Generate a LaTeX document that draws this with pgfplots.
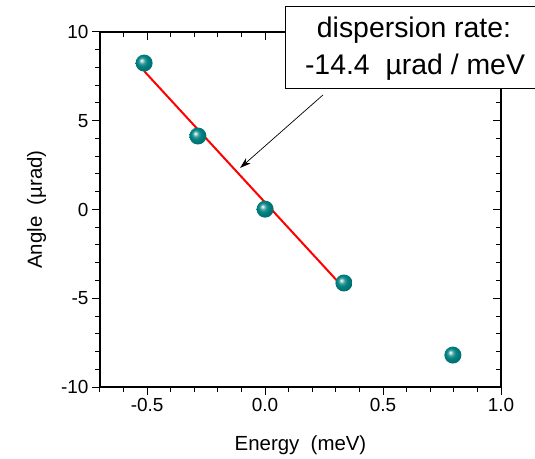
\documentclass[border=0pt]{standalone}
\usepackage{fontspec}
\setmainfont{Liberation Sans}
\usepackage{pgfplots}
\pgfplotsset{compat=1.18}
\usetikzlibrary{arrows.meta}
\definecolor{ballteal}{RGB}{0,128,128}
\pgfdeclareradialshading{tealball}{\pgfpoint{-8bp}{8bp}}{%
  color(0bp)=(white); color(3bp)=(white!75!ballteal); color(9bp)=(ballteal!80!white);
  color(16bp)=(ballteal); color(28bp)=(ballteal!85!black); color(50bp)=(ballteal!70!black)}
\pgfdeclareplotmark{tball}{%
  \pgfpathcircle{\pgfpointorigin}{\pgfplotmarksize}%
  \pgfshadepath{tealball}{0}%
  \pgfusepath{discard}}
\begin{document}
\begin{tikzpicture}
\begin{axis}[
  name=ax,
  scale only axis, width=401bp, height=355bp,
  xmin=-0.7, xmax=1.0, ymin=-10, ymax=10,
  xtick={-0.5,0,0.5,1}, xticklabels={-0.5,0.0,0.5,1.0},
  minor xtick={-0.7,-0.6,-0.4,-0.3,-0.2,-0.1,0.1,0.2,0.3,0.4,0.6,0.7,0.8,0.9},
  ytick={-10,-5,0,5,10}, yticklabels={-10,-5,0,5,10},
  minor ytick={-9,-8,-7,-6,-4,-3,-2,-1,1,2,3,4,6,7,8,9},
  tick align=outside, xtick pos=bottom, ytick pos=left,
  major tick length=8bp, minor tick length=5bp,
  every tick/.style={black, line width=1bp},
  axis line style={line width=1.3bp},
  ticklabel style={font=\fontsize{19}{21}\selectfont},
  xlabel={Energy\ \ (meV)}, ylabel={Angle\ \ (µrad)},
  label style={font=\fontsize{20.5}{23}\selectfont},
  xlabel style={at={(axis description cs:0.5,0)}, anchor=base, yshift=-63bp},
  ylabel style={at={([xshift=-58bp]axis description cs:0,0.5)}, anchor=base},
]
\coordinate (BL) at (rel axis cs:0,0);
\coordinate (TR) at (rel axis cs:1,1);
\coordinate (TL) at (rel axis cs:0,1);
\addplot[only marks, mark=tball, mark size=8.5bp]
  coordinates {(-0.513,8.25) (-0.285,4.14) (0.0,0.02) (0.334,-4.14) (0.796,-8.2)};
\addplot[red, line width=2bp] coordinates {(-0.513,7.80) (0.334,-4.43)};
\draw[-{Stealth[length=11bp,width=7bp]}, line width=0.7bp] (axis cs:0.245,6.45) -- (axis cs:-0.106,2.34);
\end{axis}
\begin{axis}[
  scale only axis, width=401bp, height=355bp,
  xmin=-0.7, xmax=1.0, ymin=-10, ymax=10,
  xtick={-0.5,0,0.5,1}, xticklabels={},
  minor xtick={-0.7,-0.6,-0.4,-0.3,-0.2,-0.1,0.1,0.2,0.3,0.4,0.6,0.7,0.8,0.9},
  ytick={-10,-5,0,5,10}, yticklabels={},
  minor ytick={-9,-8,-7,-6,-4,-3,-2,-1,1,2,3,4,6,7,8,9},
  tick align=inside, xtick pos=top, ytick pos=right,
  major tick length=8bp, minor tick length=5bp,
  every tick/.style={black, line width=1bp},
  axis line style={line width=1.3bp},
]
\end{axis}
\fill[white] ([shift={(185bp,-56bp)}]TL) rectangle ([shift={(445bp,26bp)}]TL);
\draw[line width=0.9bp] ([shift={(445bp,26bp)}]TL) -- ([shift={(185bp,26bp)}]TL) -- ([shift={(185bp,-56bp)}]TL) -- ([shift={(445bp,-56bp)}]TL);
\node[anchor=base, inner sep=0pt, font=\fontsize{28.5}{32}\selectfont] at ([shift={(314bp,-6bp)}]TL) {dispersion rate:};
\node[anchor=base, inner sep=0pt, font=\fontsize{28.5}{32}\selectfont] at ([shift={(315bp,-43bp)}]TL) {-14.4\ \ µrad / meV};
\pgfresetboundingbox
\path[use as bounding box] ([shift={(-100bp,-72bp)}]BL) rectangle ([shift={(34bp,32bp)}]TR);
\end{tikzpicture}
\end{document}
